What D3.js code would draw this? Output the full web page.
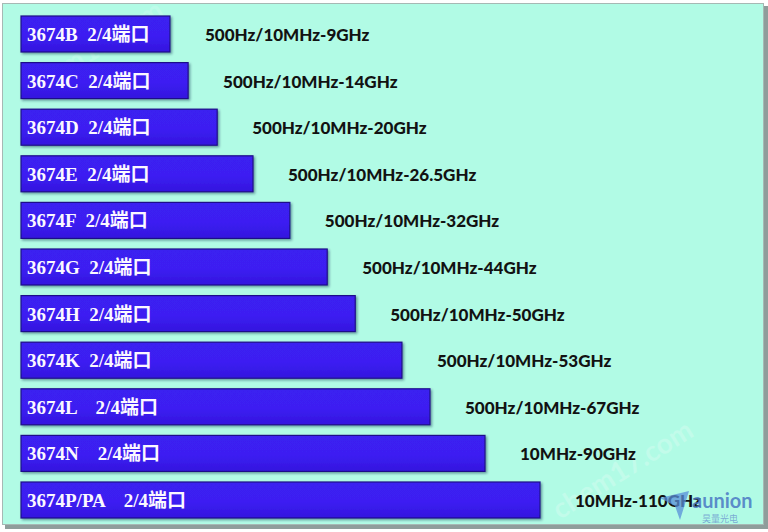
<!DOCTYPE html>
<html>
<head>
<meta charset="utf-8">
<script src="https://cdn.jsdelivr.net/npm/d3@7"></script>
<style>
  html, body { margin: 0; padding: 0; background: #ffffff; }
  svg { display: block; }
  .model { font-family: "Liberation Serif", "Noto Sans CJK SC", serif; font-weight: bold; font-size: 19px; fill: #fbf8ff; white-space: pre; }
  .range { font-family: Lato, "Open Sans", sans-serif; font-weight: 900; font-size: 17px; fill: #121212; }
</style>
</head>
<body>
<script>
// Model / port labels shown inside each bar
const categories = [
  "3674B  2/4端口",
  "3674C  2/4端口",
  "3674D  2/4端口",
  "3674E  2/4端口",
  "3674F  2/4端口",
  "3674G  2/4端口",
  "3674H  2/4端口",
  "3674K  2/4端口",
  "3674L    2/4端口",
  "3674N    2/4端口",
  "3674P/PA    2/4端口"
];

// Frequency coverage of each model
const freqRanges = [
  "500Hz/10MHz-9GHz",
  "500Hz/10MHz-14GHz",
  "500Hz/10MHz-20GHz",
  "500Hz/10MHz-26.5GHz",
  "500Hz/10MHz-32GHz",
  "500Hz/10MHz-44GHz",
  "500Hz/10MHz-50GHz",
  "500Hz/10MHz-53GHz",
  "500Hz/10MHz-67GHz",
  "10MHz-90GHz",
  "10MHz-110GHz"
];

// Relative bar length (longest model = 100)
const barSpan = [28.7, 32.2, 37.8, 44.7, 51.8, 59.0, 64.4, 73.4, 78.8, 89.4, 100];

const W = 768, H = 532;
const svg = d3.select("body").append("svg").attr("width", W).attr("height", H);

const defs = svg.append("defs");
const grad = defs.append("linearGradient").attr("id", "barFill")
  .attr("x1", 0).attr("y1", 0).attr("x2", 0).attr("y2", 1);
grad.append("stop").attr("offset", "0%").attr("stop-color", "#3b20f0");
grad.append("stop").attr("offset", "55%").attr("stop-color", "#3c1ff2");
grad.append("stop").attr("offset", "100%").attr("stop-color", "#3414de");

const shadow = defs.append("filter").attr("id", "barShadow")
  .attr("x", "-5%").attr("y", "-20%").attr("width", "115%").attr("height", "150%");
shadow.append("feDropShadow").attr("dx", 1.5).attr("dy", 1.5)
  .attr("stdDeviation", 1).attr("flood-color", "#102040").attr("flood-opacity", 0.45);

// Panel with a soft frame shadow
svg.append("rect").attr("x", 5).attr("y", 6).attr("width", 763).attr("height", 523)
  .attr("fill", "#8f9d9b");
svg.append("rect").attr("x", 2.5).attr("y", 3.5).attr("width", 761).attr("height", 521)
  .attr("fill", "#b1fbe5").attr("stroke", "#a6b8b4").attr("stroke-width", 1);

// Faint site watermarks
svg.append("text").attr("transform", "translate(30,100) rotate(-32)")
  .style("font-family", "Lato, sans-serif").style("font-size", "28px").style("font-weight", "bold")
  .attr("fill", "#ffffff").attr("fill-opacity", 0.16).text("chem17.com");
svg.append("text").attr("transform", "translate(560,520) rotate(-32)")
  .style("font-family", "Lato, sans-serif").style("font-size", "28px").style("font-weight", "bold")
  .attr("fill", "#ffffff").attr("fill-opacity", 0.22).text("chem17.com");

const x = d3.scaleLinear().domain([0, 100]).range([21, 540]);
const y = d3.scaleBand().domain(categories).range([16, 518]).paddingInner(0.2275);

const rows = categories.map((c, i) => ({ label: c, span: barSpan[i], range: freqRanges[i] }));

const g = svg.append("g");

g.selectAll("rect.bar").data(rows).join("rect")
  .attr("class", "bar")
  .attr("x", x(0))
  .attr("y", d => y(d.label))
  .attr("width", d => x(d.span) - x(0))
  .attr("height", y.bandwidth())
  .attr("fill", "url(#barFill)")
  .attr("stroke", "#1f0f8a")
  .attr("stroke-width", 1.2)
  .attr("filter", "url(#barShadow)");

g.selectAll("text.model").data(rows).join("text")
  .attr("class", "model")
  .attr("x", x(0) + 6)
  .attr("y", d => y(d.label) + y.bandwidth() / 2 + 7)
  .text(d => d.label);

g.selectAll("text.range").data(rows).join("text")
  .attr("class", "range")
  .attr("x", d => x(d.span) + 35)
  .attr("y", d => y(d.label) + y.bandwidth() / 2 + 7)
  .text(d => d.range);

// Brand mark in the lower right corner
const logo = svg.append("g");
logo.append("path")
  .attr("d", "M660,498 L689,491 L680,520 L675,506 Z")
  .attr("fill", "#5a8fd8").attr("fill-opacity", 0.75);
logo.append("text").attr("x", 692).attr("y", 508)
  .style("font-family", "Lato, sans-serif").style("font-weight", "bold").style("font-size", "20px")
  .attr("fill", "#4a78c4").attr("fill-opacity", 0.85).text("aunion");
logo.append("text").attr("x", 702).attr("y", 522)
  .style("font-family", "'Noto Sans CJK SC', sans-serif").style("font-size", "9px")
  .attr("fill", "#6d95cf").attr("fill-opacity", 0.8).text("昊量光电");
</script>
</body>
</html>
